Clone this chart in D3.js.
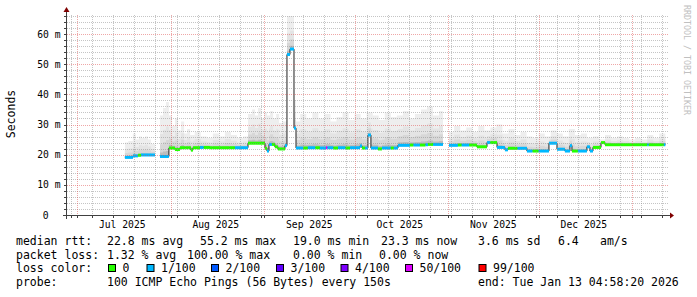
<!DOCTYPE html>
<html><head><meta charset="utf-8">
<script src="https://cdn.jsdelivr.net/npm/d3@7/dist/d3.min.js"></script>
<style>
body{margin:0;background:#fff}
svg{display:block}
text{font-family:"DejaVu Sans Mono",monospace;fill:#000}
</style>
</head><body>
<svg id="c" width="697" height="297"></svg>
<script>
// ---------------- data ----------------
const rangeStart = "2025-06-27T16:20";
const rangeEnd = "2026-01-13T04:58";
const yMax = 66.3;
const yTicks = [0,10,20,30,40,50,60];
const yTickLabels = ["0","10 m","20 m","30 m","40 m","50 m","60 m"];
const monthStarts = ["2025-07-01","2025-08-01","2025-09-01","2025-10-01","2025-11-01","2025-12-01","2026-01-01"];
const monthLabels = ["Jul 2025","Aug 2025","Sep 2025","Oct 2025","Nov 2025","Dec 2025"];

// median rtt (ms), step-wise, null = no data; loss = packet loss per 100
const medDates = ["2025-07-16T21:00","2025-07-19T13:00","2025-07-21T05:00","2025-07-22T05:00","2025-07-26T20:00",
 "2025-07-28T12:00","2025-07-31T11:00","2025-08-02T11:00","2025-08-04T03:00","2025-08-06T00:00","2025-08-07T00:00",
 "2025-08-07T18:00","2025-08-08T10:00","2025-08-10T18:00","2025-08-12T00:00","2025-08-14T01:00","2025-08-15T00:00",
 "2025-08-18T00:00","2025-08-20T12:00","2025-08-22T08:00","2025-08-26T16:00","2025-08-29T07:00","2025-09-01T07:00",
 "2025-09-01T23:00","2025-09-02T15:00","2025-09-03T15:00","2025-09-04T14:00","2025-09-05T14:00","2025-09-07T22:00",
 "2025-09-08T14:00","2025-09-09T14:00","2025-09-10T22:00","2025-09-11T14:00","2025-09-14T00:00","2025-09-15T12:00",
 "2025-09-18T00:00","2025-09-19T12:00","2025-09-21T12:00","2025-09-22T00:00","2025-09-24T00:00","2025-09-25T12:00",
 "2025-09-28T00:00","2025-09-29T12:00","2025-10-02T19:00","2025-10-03T11:00","2025-10-04T12:00","2025-10-05T10:00",
 "2025-10-06T10:00","2025-10-08T18:00","2025-10-10T02:00","2025-10-13T00:00","2025-10-14T00:00","2025-10-15T09:00",
 "2025-10-19T08:00","2025-10-20T12:00","2025-10-22T16:00","2025-10-24T12:00","2025-10-25T08:00","2025-10-27T00:00",
 "2025-10-30T07:00","2025-11-01T07:00","2025-11-04T06:00","2025-11-05T12:00","2025-11-08T00:00","2025-11-10T13:00",
 "2025-11-13T21:00","2025-11-15T00:00","2025-11-17T05:00","2025-11-19T20:00","2025-11-20T20:00","2025-11-24T00:00",
 "2025-11-27T03:00","2025-11-29T00:00","2025-12-01T00:00","2025-12-04T10:00","2025-12-07T02:00","2025-12-09T17:00",
 "2025-12-11T09:00","2025-12-12T01:00","2025-12-14T00:00","2025-12-17T00:00","2025-12-18T00:00","2025-12-19T00:00",
 "2025-12-21T16:00","2025-12-23T00:00","2026-01-06T00:00","2026-01-06T12:00","2026-01-11T12:00","2026-01-12T00:00"];
const medVals = [19.1,19.6,19.8,19.9,null,
 19.4,22.2,21.7,22.3,22.3,22.3,
 21.5,22.3,22.4,22.4,22.3,22.3,
 22.3,22.3,22.3,23.8,23.8,22.1,
 21.2,23.4,23.4,22.6,21.9,23.0,
 53.2,55.0,28.8,22.2,22.2,22.3,
 22.3,22.2,22.3,22.3,22.2,22.3,
 22.2,22.3,22.9,22.2,22.2,26.5,
 22.2,21.9,22.2,22.2,22.2,23.1,
 23.2,23.2,23.2,23.3,23.4,23.4,
 null,23.1,23.2,23.2,23.2,22.6,
 24.0,24.0,22.4,21.6,22.1,22.1,
 21.2,21.2,21.2,23.8,21.8,21.2,
 23.0,21.2,21.2,22.6,21.2,22.4,
 24.0,23.3,23.3,23.3,23.3,null];
const medLoss = [1,1,0,1,0,
 1,0,0,0,0,0,
 0,0,1,0,0,0,
 0,0,1,0,0,0,
 1,1,0,0,0,1,
 1,1,1,1,0,1,
 0,1,50,1,0,1,
 0,1,1,0,1,1,
 1,0,1,0,1,1,
 0,1,0,1,0,1,
 0,1,0,1,0,0,
 1,0,1,1,0,1,
 1,0,1,1,1,1,
 1,0,1,1,1,0,
 0,0,1,0,1,0];

// upper edge of the ping "smoke" (ms)
const smokeDates = ["2025-07-16T21:00","2025-07-18T00:00","2025-07-19T12:00","2025-07-20T12:00","2025-07-21T12:00",
 "2025-07-22T12:00","2025-07-23T12:00","2025-07-24T12:00","2025-07-25T12:00","2025-07-26T20:00","2025-07-28T12:00",
 "2025-07-29T12:00","2025-07-30T12:00","2025-07-31T11:00","2025-08-01T12:00","2025-08-02T12:00","2025-08-03T12:00",
 "2025-08-04T12:00","2025-08-05T12:00","2025-08-06T12:00","2025-08-07T12:00","2025-08-09T00:00","2025-08-11T00:00",
 "2025-08-13T00:00","2025-08-15T00:00","2025-08-17T00:00","2025-08-19T00:00","2025-08-21T00:00","2025-08-23T00:00",
 "2025-08-25T00:00","2025-08-26T16:00","2025-08-28T00:00","2025-08-29T00:00","2025-08-30T00:00","2025-08-31T00:00",
 "2025-09-01T00:00","2025-09-02T00:00","2025-09-03T00:00","2025-09-04T00:00","2025-09-05T00:00","2025-09-06T00:00",
 "2025-09-07T00:00","2025-09-08T14:00","2025-09-10T22:00","2025-09-11T14:00","2025-09-13T00:00","2025-09-15T00:00",
 "2025-09-17T00:00","2025-09-19T00:00","2025-09-21T00:00","2025-09-23T00:00","2025-09-25T00:00","2025-09-27T00:00",
 "2025-09-29T00:00","2025-10-01T00:00","2025-10-03T00:00","2025-10-05T00:00","2025-10-07T00:00","2025-10-09T00:00",
 "2025-10-11T00:00","2025-10-13T00:00","2025-10-15T00:00","2025-10-17T00:00","2025-10-19T00:00","2025-10-21T00:00",
 "2025-10-23T00:00","2025-10-25T00:00","2025-10-27T00:00","2025-10-29T00:00","2025-10-30T07:00","2025-11-01T07:00",
 "2025-11-03T00:00","2025-11-05T00:00","2025-11-07T00:00","2025-11-09T00:00","2025-11-11T00:00","2025-11-13T00:00",
 "2025-11-15T00:00","2025-11-17T00:00","2025-11-19T00:00","2025-11-21T00:00","2025-11-23T00:00","2025-11-25T00:00",
 "2025-11-27T00:00","2025-11-29T00:00","2025-12-01T00:00","2025-12-03T00:00","2025-12-05T00:00","2025-12-07T00:00",
 "2025-12-09T00:00","2025-12-11T00:00","2025-12-13T00:00","2025-12-15T00:00","2025-12-17T00:00","2025-12-19T00:00",
 "2025-12-21T00:00","2025-12-23T00:00","2025-12-25T00:00","2025-12-27T00:00","2025-12-29T00:00","2025-12-31T00:00",
 "2026-01-02T00:00","2026-01-04T00:00","2026-01-06T00:00","2026-01-08T00:00","2026-01-10T00:00","2026-01-12T00:00"];
const smokeTop = [24.0,24.5,27.0,25.0,26.0,
 25.5,26.0,25.0,23.5,null,33.0,
 35.5,37.5,33.0,29.5,32.0,28.0,
 31.0,27.0,28.5,26.5,27.5,26.0,
 25.5,27.0,26.0,27.5,26.5,25.5,
 26.0,33.5,35.0,33.0,35.5,32.0,
 34.0,33.0,34.5,32.0,33.5,30.5,
 31.0,66.0,38.0,31.0,33.5,32.0,
 34.0,32.0,33.5,31.0,32.5,34.0,
 31.5,33.5,32.0,34.0,33.0,31.5,
 34.0,32.5,33.0,34.5,32.0,33.5,
 35.0,36.0,33.0,34.5,null,27.5,
 29.5,28.0,29.0,27.5,29.5,28.0,
 29.0,30.0,27.0,28.5,26.5,27.5,
 26.0,25.5,27.0,26.0,28.0,27.0,
 26.0,28.5,26.5,27.0,25.5,26.0,
 25.0,26.5,25.5,26.0,25.5,25.0,
 25.5,25.0,26.5,25.5,27.0,null];

const lossLevels = [0,1,2,3,4,50,99];
const lossLabels = ["0","1/100","2/100","3/100","4/100","50/100","99/100"];
const lossColors = ["#26ff00","#00b8ff","#0059ff","#5e00ff","#7e00ff","#dd00ff","#ff0000"];

const legendRows = [
  ["median rtt:", "22.8 ms avg", "55.2 ms max", "19.0 ms min", "23.3 ms now", "3.6 ms sd", "6.4", "am/s"],
  ["packet loss:", "1.32 % avg", "100.00 % max", "0.00 % min", "0.00 % now"],
  ["probe:", "100 ICMP Echo Pings (56 Bytes) every 150s", "end: Tue Jan 13 04:58:20 2026"]
];

// ---------------- layout ----------------
const P = {l:67, r:669, t:15, b:215};
const pd = s => new Date(s);
const x = d3.scaleTime().domain([pd(rangeStart), pd(rangeEnd)]).range([P.l, P.r]);
const y = d3.scaleLinear().domain([0, yMax]).range([P.b, P.t]);
const svg = d3.select("#c");
svg.append("rect").attr("width",697).attr("height",297).attr("fill","#fff");

const lossColor = l => { let c = lossColors[0]; lossLevels.forEach((lv,i)=>{ if (l >= lv) c = lossColors[i]; }); return c; };

function stepAt(dates, vals, t){
  let v = null;
  for (let i=0;i<dates.length;i++){ if (pd(dates[i]) <= t) v = vals[i]; else break; }
  return v;
}
const allT = Array.from(new Set([...medDates, ...smokeDates])).map(pd).sort((a,b)=>a-b);
const merged = [];
allT.forEach(t => {
  const m = stepAt(medDates, medVals, t), s = stepAt(smokeDates, smokeTop, t);
  const ok = m!=null && s!=null;
  if (merged.length && merged[merged.length-1].ok && !ok) {
    const p = merged[merged.length-1];
    merged.push({t, m:p.m, s:p.s, ok:true});
  }
  merged.push({t, m, s, ok});
});

const smokeG = svg.append("g");
const layers = [[1.0,"#eeeeee"],[0.55,"#e4e4e4"],[0.3,"#d7d7d7"],[0.1,"#bdbdbd"]];
layers.forEach(([f,col]) => {
  smokeG.append("path").datum(merged)
    .attr("fill", col)
    .attr("d", d3.area().defined(d=>d.ok).curve(d3.curveStepAfter)
      .x(d=>x(d.t)).y0(d=>y(d.m)).y1(d=>y(d.m + f*(d.s-d.m))));
});

// median black line
const medSeries = [];
medDates.forEach((ds,i)=>{
  const t = pd(ds), v = medVals[i];
  if (v==null && medSeries.length && medSeries[medSeries.length-1].v!=null)
    medSeries.push({t, v: medSeries[medSeries.length-1].v});
  medSeries.push({t, v});
});
svg.append("path").datum(medSeries).attr("fill","none").attr("stroke","#202020").attr("stroke-width",1)
  .attr("d", d3.line().defined(d=>d.v!=null).curve(d3.curveStepAfter).x(d=>x(d.t)).y(d=>y(d.v)));

// loss-coloured bands
const bands = [];
for (let i=0;i<medDates.length-1;i++){
  if (medVals[i]==null) continue;
  bands.push({t0:pd(medDates[i]), t1:pd(medDates[i+1]), v:medVals[i], l:medLoss[i]});
}
svg.append("g").selectAll("rect").data(bands).join("rect")
  .attr("x", d=>x(d.t0)).attr("width", d=>x(d.t1)-x(d.t0))
  .attr("y", d=>y(d.v)-1.5).attr("height", 3)
  .attr("fill", d=>lossColor(d.l));

// ---------------- grid (on top, semi-transparent) ----------------
const gridG = svg.append("g").attr("shape-rendering","crispEdges");
const minorY = d3.range(0, yMax, 2).filter(v => v % 10 !== 0);
gridG.selectAll(".hmin").data(minorY).join("line")
  .attr("x1",P.l).attr("x2",P.r).attr("y1",d=>Math.round(y(d))+0.5).attr("y2",d=>Math.round(y(d))+0.5)
  .attr("stroke","rgba(140,140,140,0.5)").attr("stroke-dasharray","1,1");
const weeks = d3.timeSunday.range(x.domain()[0], x.domain()[1]);
const monthDates = monthStarts.map(pd);
gridG.selectAll(".vmin").data(weeks.filter(w => w.getDate()!==1)).join("line")
  .attr("y1",P.t).attr("y2",P.b).attr("x1",d=>Math.round(x(d))+0.5).attr("x2",d=>Math.round(x(d))+0.5)
  .attr("stroke","rgba(140,140,140,0.5)").attr("stroke-dasharray","1,1");
gridG.selectAll(".hmaj").data(yTicks.filter(v=>v>0)).join("line")
  .attr("x1",P.l).attr("x2",P.r).attr("y1",d=>Math.round(y(d))+0.5).attr("y2",d=>Math.round(y(d))+0.5)
  .attr("stroke","rgba(224,80,80,0.5)").attr("stroke-dasharray","1,1");
gridG.selectAll(".vmaj").data(monthDates).join("line")
  .attr("y1",P.t).attr("y2",P.b).attr("x1",d=>Math.round(x(d))+0.5).attr("x2",d=>Math.round(x(d))+0.5)
  .attr("stroke","rgba(224,80,80,0.5)").attr("stroke-dasharray","1,1");

// ---------------- axes ----------------
const axG = svg.append("g").attr("shape-rendering","crispEdges");
axG.append("line").attr("x1",63).attr("x2",670).attr("y1",P.b+0.5).attr("y2",P.b+0.5).attr("stroke","#404040");
axG.append("line").attr("x1",P.l-0.5).attr("x2",P.l-0.5).attr("y1",P.b+4).attr("y2",11).attr("stroke","#404040");
axG.selectAll(".xt").data(weeks.concat(monthDates)).join("line")
  .attr("x1",d=>Math.round(x(d))+0.5).attr("x2",d=>Math.round(x(d))+0.5).attr("y1",P.b).attr("y2",P.b+3).attr("stroke","#404040");
axG.selectAll(".yt").data(d3.range(0,yMax,2)).join("line")
  .attr("y1",d=>Math.round(y(d))+0.5).attr("y2",d=>Math.round(y(d))+0.5).attr("x1",P.l-3).attr("x2",P.l).attr("stroke","#404040");
svg.append("path").attr("d",`M${670},${P.b-2.5}L${674},${P.b+0.5}L${670},${P.b+3.5}Z`).attr("fill","#7f0000");
svg.append("path").attr("d",`M${P.l-3.5},${12}L${P.l-0.5},${7}L${P.l+2.5},${12}Z`).attr("fill","#7f0000");

svg.selectAll(".yl").data(yTicks).join("text")
  .attr("x",(d,i)=> i===0 ? 48.5 : 60.5).attr("y",d=>y(d)+3.5).attr("text-anchor","end")
  .style("font-size","9.7px")
  .text((d,i)=>yTickLabels[i]);
svg.selectAll(".xl").data(monthLabels).join("text")
  .attr("x",(d,i)=>x(d3.timeDay.offset(monthDates[i],15))).attr("y",228)
  .attr("text-anchor","middle").style("font-size","9.7px").text(d=>d);

svg.append("text").attr("transform","translate(15,114) rotate(-90)").attr("text-anchor","middle")
  .style("font-size","11.5px").text("Seconds");
svg.append("text").attr("transform","translate(684,5) rotate(90)").attr("text-anchor","start")
  .style("font-size","8.3px").style("fill","#c0c0c0").text("RRDTOOL / TOBI OETIKER");

// ---------------- legend ----------------
const lg = svg.append("g").style("font-size","11.5px");
const row1x = [16,107,200,293,381,478,558,600];
legendRows[0].forEach((s,i)=> lg.append("text").attr("x",row1x[i]).attr("y",245).text(s));
const row2x = [16,107,187,293,379];
legendRows[1].forEach((s,i)=> lg.append("text").attr("x",row2x[i]).attr("y",258.5).text(s));
lg.append("text").attr("x",16).attr("y",272).text("loss color:");
const boxX = [108,146.5,211,276,340.5,405,478.5];
lossLabels.forEach((s,i)=>{
  lg.append("rect").attr("x",boxX[i]+0.5).attr("y",264.5).attr("width",7).attr("height",7)
    .attr("fill",lossColors[i]).attr("stroke","#000").attr("stroke-width",1);
  lg.append("text").attr("x",boxX[i]+14.5).attr("y",272).text(s);
});
const row4x = [16,107,478];
legendRows[2].forEach((s,i)=> lg.append("text").attr("x",row4x[i]).attr("y",285.5).text(s));
</script>
</body></html>
